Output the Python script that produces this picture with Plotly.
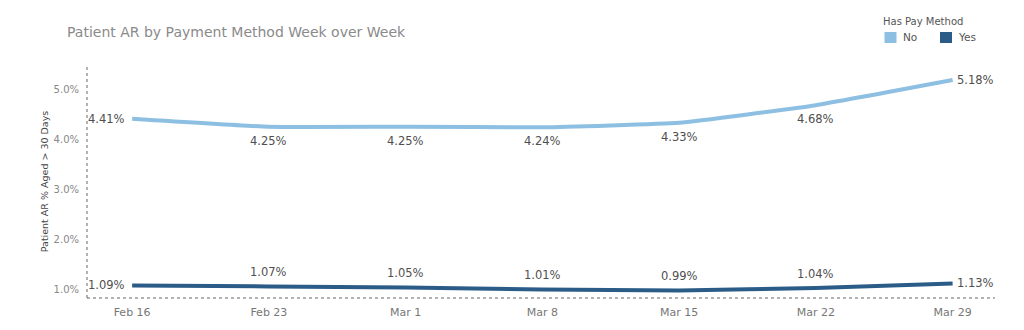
import plotly.graph_objects as go

weeks = ["Feb 16", "Feb 23", "Mar 1", "Mar 8", "Mar 15", "Mar 22", "Mar 29"]
no_vals = [4.41, 4.25, 4.25, 4.24, 4.33, 4.68, 5.18]
yes_vals = [1.09, 1.07, 1.05, 1.01, 0.99, 1.04, 1.13]
series_names = ["No", "Yes"]
colors = {"No": "#8dbfe2", "Yes": "#2b5c88"}

FONT = "DejaVu Sans"
W, H = 1024, 330
L, R, T, B = 87, 29, 65, 32
pw, ph = W - L - R, H - T - B
n = len(weeks)
xi = list(range(n))


def px(xp):
    return (xp - L) / pw


def py(yp):
    return (H - B - yp) / ph


fig = go.Figure()
for name, vals in zip(series_names, [no_vals, yes_vals]):
    fig.add_trace(go.Scatter(
        x=xi, y=vals, mode="lines", name=name,
        line=dict(color=colors[name], width=4, shape="spline", smoothing=0.35),
        showlegend=False, cliponaxis=False, hoverinfo="skip",
    ))
    for i, v in enumerate(vals):
        if i == 0:
            kw = dict(xanchor="right", yanchor="middle", xshift=-5, yshift=0)
        elif i == n - 1:
            kw = dict(xanchor="left", yanchor="middle", xshift=2, yshift=0)
        elif name == "No":
            kw = dict(xanchor="center", yanchor="middle", yshift=-14)
        else:
            kw = dict(xanchor="center", yanchor="middle", yshift=14)
        fig.add_annotation(x=i, y=v, xref="x", yref="y", text=f"{v:.2f}%",
                           showarrow=False,
                           font=dict(family=FONT, size=11.5, color="#4f4f4f"), **kw)

# dotted axis lines
fig.add_shape(type="line", xref="paper", yref="paper", x0=0, x1=0, y0=0, y1=1,
              line=dict(color="#666666", width=1, dash="dot"))
fig.add_shape(type="line", xref="paper", yref="paper", x0=0, x1=1, y0=0, y1=0,
              line=dict(color="#666666", width=1, dash="dot"))

# legend (drawn manually to match swatch layout)
fig.add_annotation(x=px(881), y=py(21.5), xref="paper", yref="paper",
                   text="Has Pay Method", showarrow=False, xanchor="left",
                   yanchor="middle", font=dict(family=FONT, size=10, color="#555555"))
legend_pos = {"No": (884.5, 901), "Yes": (940, 956)}
for name in series_names:
    sx, tx = legend_pos[name]
    fig.add_shape(type="rect", xref="paper", yref="paper",
                  x0=px(sx), x1=px(sx + 12), y0=py(43), y1=py(32),
                  fillcolor=colors[name], line=dict(width=0))
    fig.add_annotation(x=px(tx), y=py(37.5), xref="paper", yref="paper",
                       text=name, showarrow=False, xanchor="left", yanchor="middle",
                       font=dict(family=FONT, size=10.5, color="#555555"))

fig.update_layout(
    width=W, height=H,
    margin=dict(l=L, r=R, t=T, b=B, autoexpand=False),
    paper_bgcolor="white", plot_bgcolor="white",
    font=dict(family=FONT, color="#888888"),
    title=dict(text="Patient AR by Payment Method Week over Week",
               x=67 / W, xref="container", xanchor="left",
               y=1 - 32 / H, yref="container", yanchor="middle",
               font=dict(family=FONT, size=14, color="#8a8a8a")),
    showlegend=False,
)
fig.update_xaxes(range=[-0.33, 6.31], tickmode="array", tickvals=xi, ticktext=weeks,
                 showgrid=False, zeroline=False, showline=False,
                 tickfont=dict(family=FONT, size=11, color="#777777"),
                 ticks="", ticklabelstandoff=6)
fig.update_yaxes(range=[0.84, 5.48], tickvals=[1, 2, 3, 4, 5],
                 ticktext=["1.0%", "2.0%", "3.0%", "4.0%", "5.0%"],
                 showgrid=False, zeroline=False, showline=False,
                 tickfont=dict(family=FONT, size=10, color="#888888"),
                 ticklabelstandoff=7,
                 title=dict(text="Patient AR % Aged > 30 Days",
                            font=dict(family=FONT, size=9.5, color="#444444"),
                            standoff=3),
                 ticks="")

fig.write_html("out.html")
